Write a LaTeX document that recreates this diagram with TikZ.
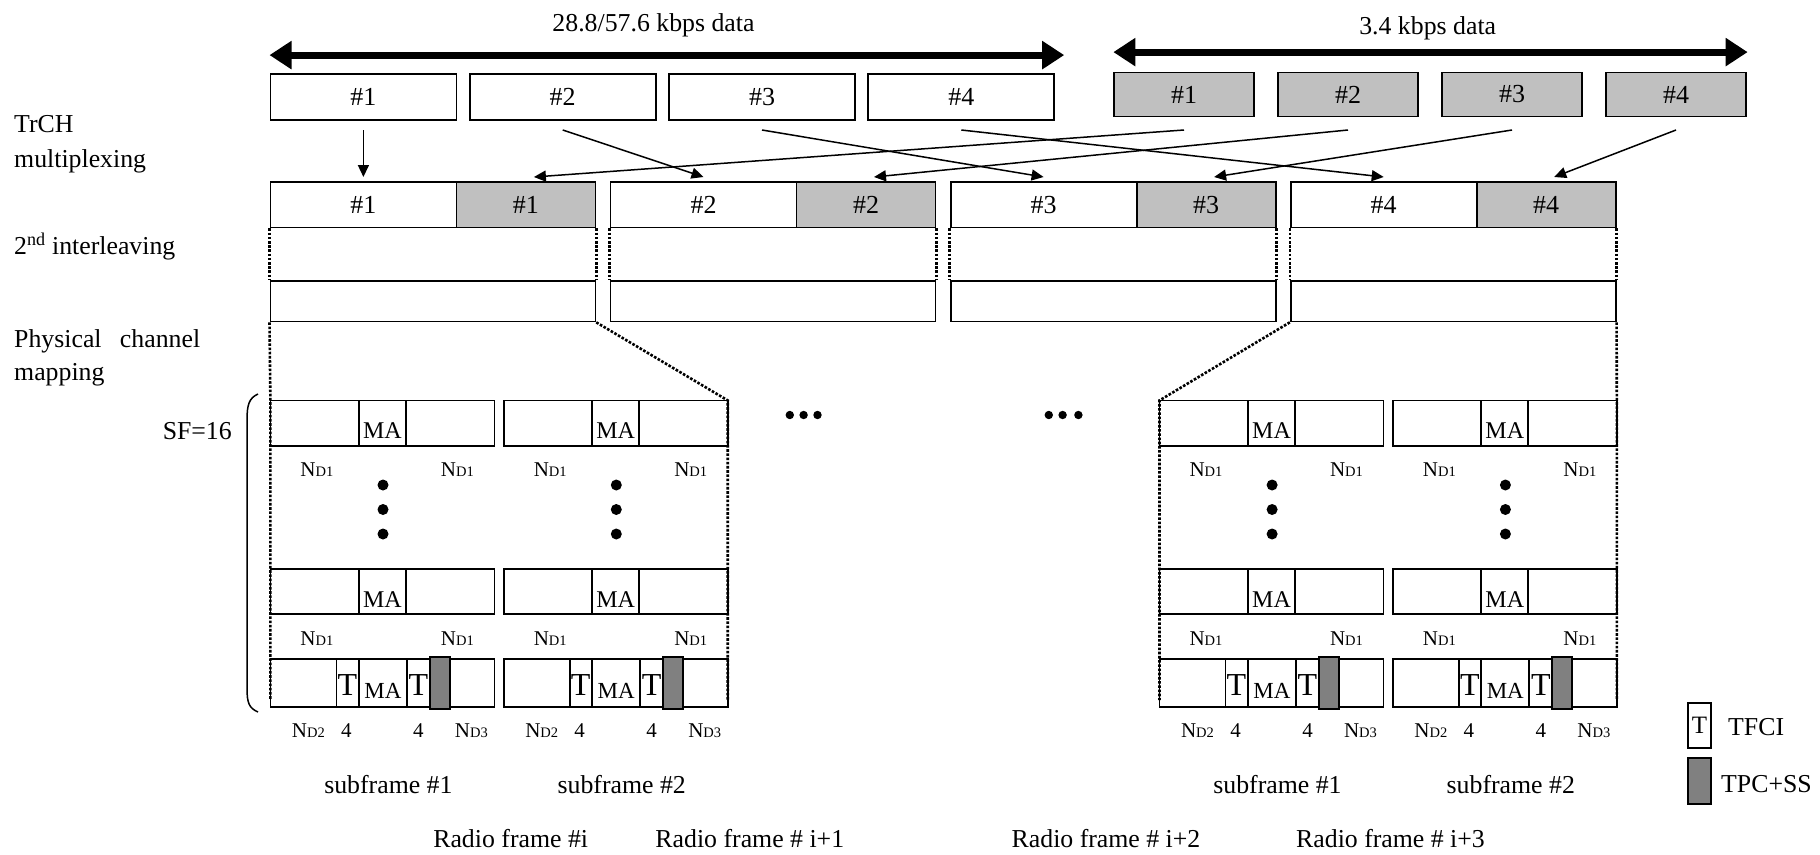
\documentclass[tikz,border=0pt]{standalone}
\usepackage{fontspec}
\setmainfont{Liberation Serif}
\usepackage{tikz}
\usetikzlibrary{arrows.meta,calc}
\definecolor{lgray}{RGB}{192,192,192}
\definecolor{dgray}{RGB}{128,128,128}
\newcommand{\ndsub}[1]{{\fontsize{14.5pt}{15pt}\selectfont #1}}

\begin{document}
\begin{tikzpicture}[
  x=1pt,y=-1pt,
  lbl/.style={inner sep=0pt, font=\fontsize{25.8pt}{30pt}\selectfont},
  box/.style={draw, line width=1.8pt, inner sep=0pt, fill=white, font=\fontsize{26pt}{30pt}\selectfont},
  gbox/.style={box, fill=lgray},
  sub/.style={draw, line width=1.8pt},
  malbl/.style={inner sep=0pt, anchor=base, font=\fontsize{24pt}{26pt}\selectfont},
  tlbl/.style={inner sep=0pt, anchor=base, font=\fontsize{32pt}{34pt}\selectfont},
  nd/.style={inner sep=0pt, font=\fontsize{21pt}{22pt}\selectfont},
  arr/.style={-{Triangle[length=12pt,width=11pt]}, line width=1.5pt},
  big/.style={{Triangle[length=22pt,width=27pt]}-{Triangle[length=22pt,width=27pt]}, line width=7pt},
  dot/.style={line width=2.6pt, dash pattern=on 2.6pt off 1.6pt}
]
\useasboundingbox (0,0) rectangle (1820,854);

\node[lbl, anchor=west] (l1) at (14,124) {TrCH};
\node[lbl, anchor=west] (l2) at (14,161) {multiplexing};
\node[lbl, anchor=west] (l3) at (14,247) {2\textsuperscript{nd} interleaving};
\node[lbl, anchor=west] (l4) at (14,341) {\makebox[186pt][s]{Physical channel}};
\node[lbl, anchor=west] (l5) at (14,375) {mapping};
\node[lbl, anchor=east] (sf) at (232,431) {SF=16};

\foreach \i in {1,...,4}{
  \node[box, minimum width=186pt, minimum height=46pt] (d\i) at ({363.4+199.3*(\i-1)},97) {\#\i};
  \node[gbox, minimum width=139.5pt, minimum height=44pt] (b\i) at ({1184+164*(\i-1)},94.5) {\#\i};
  \node[box, minimum width=186pt, minimum height=45.5pt] (w\i) at ({363.4+340.1*(\i-1)},204.8) {\#\i};
  \node[gbox, minimum width=139pt, minimum height=45.5pt] (g\i) at ({525.9+340.1*(\i-1)},204.8) {\#\i};
  \node[box, minimum width=325pt, minimum height=40.5pt] (f\i) at ({432.9+340.1*(\i-1)},301.2) {};
}

\node[lbl] (hi) at (653.5,25) {28.8/57.6 kbps data};
\node[lbl] (lo) at (1427.7,28) {3.4 kbps data};
\draw[big] ($(d1.north west)+(0,-18)$) -- ($(d4.north east)+(9,-18)$);
\draw[big] ($(b1.north west)+(0,-19.5)$) -- ($(b4.north east)+(1,-19.5)$);

\coordinate (src) at (0,130);
\coordinate (dst) at (0,177);
\foreach \i in {1,...,4}{
  \draw[arr] (d\i |- src) -- (w\i |- dst);
  \draw[arr] (b\i |- src) -- ($(g\i |- dst)+(8,0)$);
}

\foreach \i in {1,...,4}{
  \draw[dot] (w\i.south west) -- (f\i.north west);
  \draw[dot] (g\i.south east) -- (f\i.north east);
}

\foreach \L/\s [count=\n] in {270.4/1,503.7/2,1159.5/1,1392.8/2}{
  \coordinate (sl\n) at (\L,400.4);
  \coordinate (sr\n) at (\L+224,400.4);
  \foreach \y/\r in {400.4/a,568.7/b}{
    \draw[sub] (\L,\y) rectangle ++(88.5,45.3);
    \draw[sub] (\L+88.5,\y) rectangle ++(47,45.3);
    \draw[sub] (\L+135.5,\y) rectangle ++(88.5,45.3);
    \node[malbl] (ma\r\n) at (\L+112,\y+38.3) {MA};
    \node[nd] (nl\r\n) at (\L+46.5,\y+69.6) {N\ndsub{D1}};
    \node[nd] (nr\r\n) at (\L+187,\y+69.6) {N\ndsub{D1}};
  }
  \draw[sub] (\L,659.3) rectangle ++(66,47.6);
  \draw[sub] (\L+66,659.3) rectangle ++(22,47.6);
  \draw[sub] (\L+88.5,659.3) rectangle ++(48,47.6);
  \draw[sub] (\L+136.5,659.3) rectangle ++(23,47.6);
  \draw[sub] (\L+179.5,659.3) rectangle ++(44.5,47.6);
  \draw[sub, fill=dgray] (\L+159.5,657) rectangle ++(20,51.6);
  \node[tlbl] (ta\n) at (\L+77,695) {T};
  \node[malbl, font=\fontsize{23pt}{25pt}\selectfont] (mac\n) at (\L+112.5,698) {MA};
  \node[tlbl] (tb\n) at (\L+148,695) {T};
  \node[nd] (n2\n) at (\L+38,731) {N\ndsub{D2}};
  \node[nd] (f4a\n) at (\L+76,731) {4};
  \node[nd] (f4b\n) at (\L+148,731) {4};
  \node[nd] (n3\n) at (\L+201,731) {N\ndsub{D3}};
  \foreach \v in {485,509.5,534}
    \fill (\L+112.6,\v) circle (5.5pt);
  \node[lbl] (sub\n) at (\L+118,785) {subframe \#\s};
}

\coordinate (end) at (0,700);
\draw[dot] (f1.south west) -- (sl1) -- (sl1 |- end);
\draw[dot] (f1.south east) -- (sr2) -- (sr2 |- end);
\draw[dot] (f4.south west) -- (sl3) -- (sl3 |- end);
\draw[dot] (f4.south east) -- (sr4) -- (sr4 |- end);

\foreach \x in {789.8,803.6,817.5,1048.8,1062.6,1078.4}
  \fill (\x,415) circle (4.2pt);

\draw[line width=1.5pt] (258,394) .. controls (249,398) and (247,405) .. (247,420) -- (247,688) .. controls (247,703) and (249,708) .. (258,712);

\node[lbl] (rf1) at (510.7,839) {Radio frame \#i};
\node[lbl] (rf2) at (749.8,839) {Radio frame \# i+1};
\node[lbl] (rf3) at (1106,839) {Radio frame \# i+2};
\node[lbl] (rf4) at (1390.5,839) {Radio frame \# i+3};

\node[box, minimum width=23pt, minimum height=45.6pt, font=\fontsize{25pt}{27pt}\selectfont] (lt) at (1699.5,725.5) {T};
\node[box, fill=dgray, minimum width=23pt, minimum height=46pt] (lg) at (1699.5,781) {};
\node[lbl, anchor=west] (ltx) at (1728,727) {TFCI};
\node[lbl, anchor=west] (lgx) at (1721,784) {TPC+SS};
\end{tikzpicture}
\end{document}
